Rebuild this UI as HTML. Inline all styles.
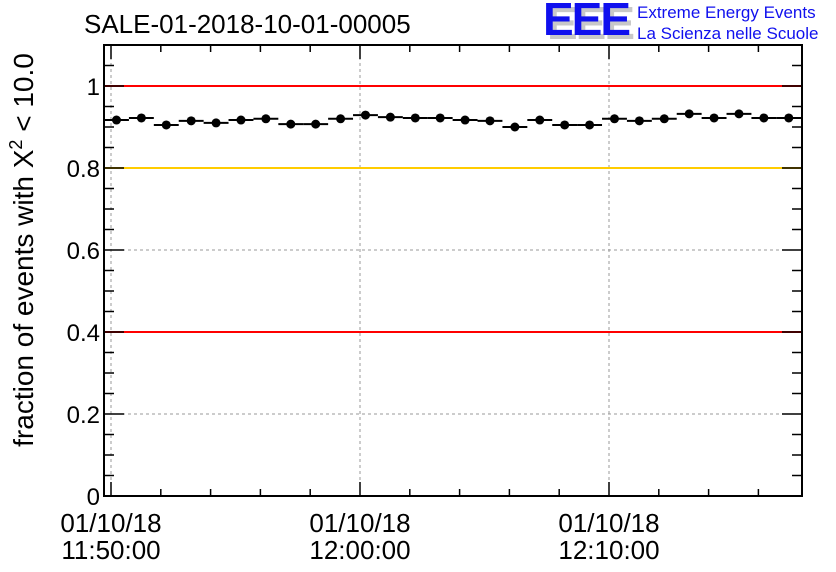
<!DOCTYPE html>
<html><head><meta charset="utf-8"><style>
body{margin:0;background:#fff;}
svg{display:block;font-family:"Liberation Sans",sans-serif;}
</style></head><body>
<svg id="chart" width="836" height="572" viewBox="0 0 836 572">
<text x="84" y="33" font-size="26">SALE-01-2018-10-01-00005</text>
<g>
<text x="547" y="39" font-size="46" font-weight="bold" fill="#c8c8c8" letter-spacing="-2">EEE</text>
<text x="543" y="35" font-size="46" font-weight="bold" fill="#1010ee" letter-spacing="-2">EEE</text>
<text x="637" y="18" font-size="17" fill="#1010ee">Extreme Energy Events</text>
<text x="637" y="39" font-size="17" fill="#1010ee">La Scienza nelle Scuole</text>
</g>
<text transform="translate(33,250) rotate(-90)" text-anchor="middle" font-size="28">fraction of events with X<tspan dy="-11" font-size="18">2</tspan><tspan dy="11"> &lt; 10.0</tspan></text>
<g id="grid"></g><g id="refs"></g><g id="axes"></g><g id="marks"></g>
</svg>
<script>
const values=[0.917,0.922,0.905,0.915,0.910,0.917,0.920,0.907,0.907,0.920,0.929,0.924,0.922,0.922,0.917,0.915,0.900,0.917,0.905,0.905,0.920,0.915,0.920,0.932,0.922,0.932,0.922,0.922];
const yTicks=[0,0.2,0.4,0.6,0.8,1];
const yTickLabels=["0","0.2","0.4","0.6","0.8","1"];
const xMajorMinutes=[0,10,20];
const xDateLabels=["01/10/18","01/10/18","01/10/18"];
const xTimeLabels=["11:50:00","12:00:00","12:10:00"];
const refLines=[1,0.8,0.4];
const refColors=["#ff0000","#ffcc00","#ff0000"];
const L=104,R=802,T=45,B=496;
const ymax=1.1;
const y=v=>B-(v/ymax)*(B-T);
const pxPerMin=24.9, x0=111;
const x=m=>x0+m*pxPerMin;
const NS="http://www.w3.org/2000/svg";
function mk(parent,tag,attrs){const e=document.createElementNS(NS,tag);for(const k in attrs)e.setAttribute(k,attrs[k]);document.getElementById(parent).appendChild(e);return e;}
yTicks.forEach(v=>{if(v===0)return;const e=mk('grid','line',{x1:L,x2:R,y1:y(v),y2:y(v),stroke:'#999','stroke-dasharray':'3,3','stroke-width':1});

});
xMajorMinutes.forEach(m=>{const e=mk('grid','line',{x1:x(m),x2:x(m),y1:T,y2:B,stroke:'#999','stroke-dasharray':'3,3','stroke-width':1});

});
refLines.forEach((v,i)=>{const e=mk('refs','line',{x1:L,x2:R,y1:y(v),y2:y(v),stroke:refColors[i],'stroke-width':2});

});
const fr=mk('axes','rect',{x:L,y:T,width:R-L,height:B-T,fill:'none',stroke:'#000','stroke-width':2});


for(let k=0;k<=22;k++){const v=k*0.05;const maj=k%4===0;const len=maj?20:10;
mk('axes','line',{x1:L,x2:L+len,y1:y(v),y2:y(v),stroke:'#000','stroke-width':1.5});
mk('axes','line',{x1:R-len,x2:R,y1:y(v),y2:y(v),stroke:'#000','stroke-width':1.5});}
yTicks.forEach((v,i)=>{const t=mk('axes','text',{x:100,y:y(v)+9,'text-anchor':'end','font-size':24});t.textContent=yTickLabels[i];

});
for(let m=0;x(m)<R;m+=2){const maj=m%10===0;const len=maj?14:7;
mk('axes','line',{x1:x(m),x2:x(m),y1:B,y2:B-len,stroke:'#000','stroke-width':1.5});
mk('axes','line',{x1:x(m),x2:x(m),y1:T,y2:T+len,stroke:'#000','stroke-width':1.5});}
xMajorMinutes.forEach((m,i)=>{if(x(m)>R)return;
const a=mk('axes','text',{x:x(m),y:532,'text-anchor':'middle','font-size':26});a.textContent=xDateLabels[i];


const b=mk('axes','text',{x:x(m),y:559,'text-anchor':'middle','font-size':26});b.textContent=xTimeLabels[i];

});
values.forEach((v,i)=>{const cx=x(i+0.22);
const l=mk('marks','line',{x1:cx-pxPerMin/2,x2:cx+pxPerMin/2,y1:y(v),y2:y(v),stroke:'#000','stroke-width':2});


const c=mk('marks','circle',{cx:cx,cy:y(v),r:4.5,fill:'#000'});

});
</script>
</body></html>
